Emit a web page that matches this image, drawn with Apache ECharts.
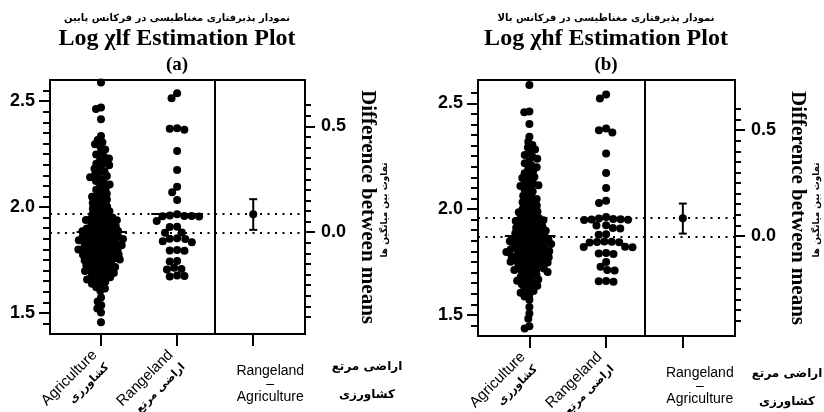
<!DOCTYPE html>
<html><head><meta charset="utf-8">
<script src="https://cdn.jsdelivr.net/npm/echarts@6/dist/echarts.min.js"></script>
<style>html,body{margin:0;padding:0;background:#fff}#c{width:824px;height:412px}</style>
</head><body><div id="c"></div>
<script>
// ---------- data ----------
const subtitlesFa = ['نمودار پذیرفتاری مغناطیسی در فرکانس پایین', 'نمودار پذیرفتاری مغناطیسی در فرکانس بالا'];
const titlesEn = ['Log χlf Estimation Plot', 'Log χhf Estimation Plot'];
const panelTags = ['(a)', '(b)'];
const groupsEn = ['Agriculture', 'Rangeland'];
const groupsFa = ['کشاورزی', 'اراضی مرتع'];
const diffLabelEn = 'Rangeland\n–\nAgriculture';
const diffLabelFa = 'اراضی مرتع\nکشاورزی';
const rightAxisName = 'Difference between means';
const rightAxisNameFa = 'تفاوت بین میانگین ها';
const leftTickLabels = [1.5, 2.0, 2.5];
const rightTickLabels = [0.0, 0.5];

const agriA = [2.588, 2.470, 2.463, 2.414, 2.336, 2.317, 2.306,
 2.296, 2.283, 2.272, 2.257,
 2.248, 2.237, 2.229, 2.221, 2.209, 2.204,
 2.197, 2.186, 2.181, 2.168, 2.162, 2.151,
 2.146, 2.141, 2.129, 2.123, 2.111, 2.106,
 2.098, 2.087, 2.082, 2.069, 2.063, 2.052,
 2.049, 2.040, 2.036, 2.024, 2.019, 2.011, 2.002,
 1.997, 1.993, 1.984, 1.980, 1.972, 1.968, 1.959, 1.957, 1.950,
 1.948, 1.945, 1.938, 1.937, 1.930, 1.928, 1.921, 1.918, 1.911, 1.909, 1.903, 1.901,
 1.899, 1.894, 1.893, 1.887, 1.886, 1.881, 1.879, 1.874, 1.872, 1.867, 1.865, 1.860, 1.859, 1.854, 1.853, 1.850,
 1.849, 1.844, 1.843, 1.838, 1.837, 1.832, 1.831, 1.826, 1.825, 1.820, 1.819, 1.814, 1.813, 1.808, 1.807, 1.803, 1.801,
 1.799, 1.794, 1.793, 1.788, 1.787, 1.782, 1.781, 1.776, 1.775, 1.770, 1.769, 1.764, 1.763, 1.758, 1.756, 1.752,
 1.749, 1.743, 1.741, 1.737, 1.733, 1.727, 1.725, 1.719, 1.717, 1.711, 1.709, 1.703, 1.701,
 1.698, 1.691, 1.688, 1.681, 1.678, 1.671, 1.668, 1.661, 1.658, 1.651,
 1.647, 1.637, 1.631, 1.621, 1.615, 1.604,
 1.573, 1.554, 1.536, 1.520, 1.501, 1.455];
const rangeA = [2.537, 2.514, 2.372, 2.370, 2.365, 2.265, 2.175, 2.096, 2.070, 2.033,
 1.966, 1.960, 1.958, 1.957, 1.956, 1.955, 1.934, 1.907, 1.905, 1.880, 1.878,
 1.852, 1.850, 1.849, 1.838, 1.833, 1.797, 1.795, 1.793, 1.745, 1.743, 1.713,
 1.707, 1.705, 1.676, 1.674, 1.672];
const agriB = [2.586, 2.461, 2.457, 2.402, 2.342,
 2.318, 2.303, 2.291, 2.282, 2.267, 2.256,
 2.247, 2.238, 2.227, 2.216, 2.205,
 2.198, 2.187, 2.179, 2.169, 2.159, 2.152,
 2.147, 2.134, 2.122, 2.118, 2.113, 2.109, 2.102,
 2.093, 2.083, 2.072, 2.063, 2.054,
 2.048, 2.038, 2.032, 2.023, 2.017, 2.007, 2.001,
 1.996, 1.989, 1.985, 1.977, 1.971, 1.966, 1.958, 1.954, 1.951,
 1.947, 1.943, 1.939, 1.934, 1.931, 1.926, 1.920, 1.916, 1.912, 1.907, 1.904, 1.900,
 1.897, 1.893, 1.890, 1.886, 1.883, 1.879, 1.876, 1.872, 1.869, 1.865, 1.862, 1.858, 1.856, 1.853, 1.850,
 1.848, 1.845, 1.841, 1.839, 1.835, 1.832, 1.829, 1.826, 1.822, 1.819, 1.816, 1.813, 1.810, 1.807, 1.805, 1.802, 1.800,
 1.797, 1.794, 1.790, 1.787, 1.785, 1.781, 1.778, 1.775, 1.772, 1.768, 1.766, 1.762, 1.759, 1.756, 1.753, 1.751,
 1.747, 1.743, 1.739, 1.736, 1.731, 1.728, 1.723, 1.719, 1.716, 1.712, 1.708, 1.705, 1.702,
 1.696, 1.690, 1.684, 1.679, 1.672, 1.667, 1.661, 1.655, 1.651,
 1.645, 1.637, 1.628, 1.622, 1.613, 1.605,
 1.596, 1.587, 1.571,
 1.537, 1.506, 1.482, 1.446, 1.436];
const rangeB = [2.542, 2.523, 2.381, 2.373, 2.362, 2.263, 2.171, 2.100, 2.039, 2.029,
 1.963, 1.955, 1.953, 1.952, 1.951, 1.950, 1.948, 1.924, 1.922, 1.910, 1.908,
 1.881, 1.879, 1.847, 1.845, 1.844, 1.843, 1.842, 1.822, 1.821, 1.820,
 1.792, 1.790, 1.788, 1.750, 1.727, 1.712, 1.710, 1.660, 1.659, 1.657];
const meansA = [1.881, 1.966];           // Agriculture, Rangeland
const meansB = [1.873, 1.955];
const diffA = [0.085, 0.011, 0.156];     // estimate, CI low, CI high
const diffB = [0.084, 0.011, 0.153];

// ---------- layout ----------
const panels = [
  { agri: agriA, range: rangeA, means: meansA, diff: diffA, yMin: 1.4, yMax: 2.6,
    grid: { left: 50, right: 519, top: 80, bottom: 78 }, cx: 177, faX: 367, faY: 381, nameFaX: 385 },
  { agri: agriB, range: rangeB, means: meansB, diff: diffB, yMin: 1.4, yMax: 2.61,
    grid: { left: 478, right: 89, top: 80, bottom: 76 }, cx: 606, faX: 787, faY: 388, nameFaX: 817 }
];
const X_MIN = -0.67, X_MAX = 2.68;
const BLACK = '#000';
const SANS = 'Liberation Sans';
const SERIF = 'Liberation Serif';
const FA = 'DejaVu Sans';

function steps(a, b, s) { const r = []; for (let v = a; v <= b + 1e-9; v += s) r.push(+v.toFixed(3)); return r; }

const grids = [], xAxes = [], yAxes = [], series = [], graphics = [];
panels.forEach((p, i) => {
  grids.push(Object.assign({ show: true, borderColor: BLACK, borderWidth: 2, containLabel: false, outerBoundsMode: 'none' }, p.grid));
  const xBase = { type: 'value', gridIndex: i, position: 'bottom', min: X_MIN, max: X_MAX, splitLine: { show: false },
    axisLine: { show: false, onZero: false } };
  xAxes.push(Object.assign({}, xBase, {
    axisTick: { show: true, inside: false, length: 12, lineStyle: { color: BLACK, width: 2 }, customValues: [0, 1, 2] },
    axisLabel: { show: true, rotate: 45, margin: 25, customValues: [0, 1],
      formatter: v => '{en|' + groupsEn[Math.round(v)] + '}\n{fa|' + groupsFa[Math.round(v)] + '}',
      rich: { en: { fontFamily: SANS, fontSize: 15, color: BLACK, lineHeight: 18 },
              fa: { fontFamily: FA, fontSize: 11, fontWeight: 'bold', color: BLACK, lineHeight: 18 } } }
  }));
  xAxes.push(Object.assign({}, xBase, {
    axisTick: { show: false },
    axisLabel: { show: true, rotate: 0, margin: 31, customValues: [2], formatter: () => diffLabelEn,
      fontFamily: SANS, fontSize: 14, color: BLACK, lineHeight: 13, padding: [0, 0, 0, 34] }
  }));
  const rMin = p.yMin - p.means[0], rMax = p.yMax - p.means[0];
  const yBase = { type: 'value', gridIndex: i, splitLine: { show: false } };
  // left main
  yAxes.push(Object.assign({}, yBase, { position: 'left', min: p.yMin, max: p.yMax,
    axisLine: { show: true, onZero: false, lineStyle: { color: BLACK, width: 2 } },
    axisTick: { show: true, length: 11, lineStyle: { color: BLACK, width: 2 }, customValues: leftTickLabels },
    axisLabel: { show: true, margin: 15, customValues: leftTickLabels, formatter: v => v.toFixed(1),
      fontFamily: SANS, fontWeight: 'bold', fontSize: 18, color: BLACK } }));
  // left minor
  yAxes.push(Object.assign({}, yBase, { position: 'left', min: p.yMin, max: p.yMax,
    axisLine: { show: false, onZero: false },
    axisTick: { show: true, length: 7, lineStyle: { color: BLACK, width: 2 }, customValues: steps(1.45, 2.55, 0.05) },
    axisLabel: { show: false } }));
  // right main
  yAxes.push(Object.assign({}, yBase, { position: 'right', min: rMin, max: rMax,
    name: rightAxisName, nameLocation: 'middle', nameRotate: -90, nameGap: 52,
    nameTextStyle: { fontFamily: SERIF, fontWeight: 'bold', fontSize: 21, color: BLACK },
    axisLine: { show: true, onZero: false, lineStyle: { color: BLACK, width: 2 } },
    axisTick: { show: true, length: 10, lineStyle: { color: BLACK, width: 2 }, customValues: rightTickLabels },
    axisLabel: { show: true, margin: 16, customValues: rightTickLabels, formatter: v => v.toFixed(1),
      fontFamily: SANS, fontWeight: 'bold', fontSize: 18, color: BLACK } }));
  // right minor
  yAxes.push(Object.assign({}, yBase, { position: 'right', min: rMin, max: rMax,
    axisLine: { show: false, onZero: false },
    axisTick: { show: true, length: 6, lineStyle: { color: BLACK, width: 2 }, customValues: steps(-0.4, 0.6, 0.05) },
    axisLabel: { show: false } }));

  const xi = 2 * i, yl = 4 * i, yr = 4 * i + 2;
  const dotted = { type: [2, 5.5], width: 2, color: BLACK };
  const dotStyle = { color: BLACK, opacity: 1 };
  series.push({ id: 'agri' + i, type: 'scatter', xAxisIndex: xi, yAxisIndex: yl, data: [],
    symbol: 'circle', symbolSize: 8, itemStyle: dotStyle, z: 3, silent: true });
  series.push({ id: 'range' + i, type: 'scatter', xAxisIndex: xi, yAxisIndex: yl, data: [],
    symbol: 'circle', symbolSize: 8, itemStyle: dotStyle, z: 3, silent: true });
  // reference lines (dotted mean lines + divider)
  series.push({ type: 'scatter', xAxisIndex: xi, yAxisIndex: yl, data: [], z: 1,
    markLine: { silent: true, symbol: 'none', label: { show: false }, animation: false,
      data: [
        { yAxis: p.means[0], lineStyle: dotted },
        { yAxis: p.means[1], lineStyle: dotted },
        { xAxis: 1.5, lineStyle: { type: 'solid', width: 2, color: BLACK } }
      ] } });
  // mean bars
  series.push({ type: 'scatter', xAxisIndex: xi, yAxisIndex: yl, data: [], z: 5,
    markLine: { silent: true, symbol: 'none', label: { show: false }, animation: false, z: 5,
      lineStyle: { type: 'solid', width: 2, color: BLACK },
      data: [
        [{ coord: [-0.32, p.means[0]] }, { coord: [0.34, p.means[0]] }],
        [{ coord: [1 - 0.34, p.means[1]] }, { coord: [1 + 0.34, p.means[1]] }]
      ] } });
  // difference estimate & CI
  series.push({ type: 'custom', xAxisIndex: xi, yAxisIndex: yr, z: 4, silent: true,
    data: [[2, p.diff[1], p.diff[2]]], encode: { x: 0, y: [1, 2] },
    renderItem: (params, api) => {
      const x = api.value(0);
      const lo = api.coord([x, api.value(1)]), hi = api.coord([x, api.value(2)]);
      const cw = 4, st = { stroke: BLACK, lineWidth: 2 };
      return { type: 'group', children: [
        { type: 'line', shape: { x1: lo[0], y1: lo[1], x2: hi[0], y2: hi[1] }, style: st },
        { type: 'line', shape: { x1: lo[0] - cw, y1: lo[1], x2: lo[0] + cw, y2: lo[1] }, style: st },
        { type: 'line', shape: { x1: hi[0] - cw, y1: hi[1], x2: hi[0] + cw, y2: hi[1] }, style: st }
      ] };
    } });
  series.push({ type: 'scatter', xAxisIndex: xi, yAxisIndex: yr, data: [[2, p.diff[0]]],
    symbol: 'circle', symbolSize: 8, itemStyle: dotStyle, z: 6, silent: true });

  // texts
  graphics.push({ type: 'text', x: p.cx, y: 18, style: { text: subtitlesFa[i], fill: BLACK,
    font: 'bold 10px "' + FA + '"', textAlign: 'center', textVerticalAlign: 'middle', align: 'center', verticalAlign: 'middle' } });
  graphics.push({ type: 'text', x: p.cx, y: 39, style: { text: titlesEn[i], fill: BLACK,
    font: 'bold 24px "' + SERIF + '"', textAlign: 'center', textVerticalAlign: 'middle', align: 'center', verticalAlign: 'middle' } });
  graphics.push({ type: 'text', x: p.cx, y: 65, style: { text: panelTags[i], fill: BLACK,
    font: 'bold 19px "' + SERIF + '"', textAlign: 'center', textVerticalAlign: 'middle', align: 'center', verticalAlign: 'middle' } });
  graphics.push({ type: 'text', x: p.faX, y: p.faY, style: { text: diffLabelFa, fill: BLACK,
    font: 'bold 12px "' + FA + '"', lineHeight: 28, textAlign: 'center', textVerticalAlign: 'middle', align: 'center', verticalAlign: 'middle' } });
  graphics.push({ type: 'text', x: p.nameFaX, y: 210, rotation: Math.PI / 2, style: { text: rightAxisNameFa, fill: BLACK,
    font: 'bold 9px "' + FA + '"', textAlign: 'center', textVerticalAlign: 'middle', align: 'center', verticalAlign: 'middle' } });
});

const chart = echarts.init(document.getElementById('c'), null, { renderer: 'canvas' });
chart.setOption({ animation: false, backgroundColor: '#fff', grid: grids, xAxis: xAxes, yAxis: yAxes, series: series, graphic: graphics });

// beeswarm layout in pixel space via the chart's own scales
function swarm(pys, D) {
  const idx = pys.map((v, k) => k).sort((a, b) => pys[a] - pys[b]);
  const placed = [], out = new Array(pys.length);
  idx.forEach(k => {
    const y = pys[k], blocks = [];
    placed.forEach(q => { const dy = Math.abs(q.y - y); if (dy < D) { const w = Math.sqrt(D * D - dy * dy); blocks.push([q.x - w, q.x + w]); } });
    const cands = [0];
    blocks.forEach(b => cands.push(b[0], b[1]));
    cands.sort((a, b) => Math.abs(a) - Math.abs(b) || a - b);
    let x = 0;
    for (const c of cands) { if (blocks.every(b => c <= b[0] + 1e-6 || c >= b[1] - 1e-6)) { x = c; break; } }
    placed.push({ x, y }); out[k] = x;
  });
  return out;
}
const upd = [];
panels.forEach((p, i) => {
  const xi = 2 * i, yl = 4 * i;
  const pxPerX = chart.convertToPixel({ xAxisIndex: xi }, 1) - chart.convertToPixel({ xAxisIndex: xi }, 0);
  [[p.agri, 0, 'agri', 5.2], [p.range, 1, 'range', 7.4]].forEach(([vals, gx, nm, D]) => {
    const pys = vals.map(v => chart.convertToPixel({ yAxisIndex: yl }, v));
    const offs = swarm(pys, D);
    upd.push({ id: nm + i, data: vals.map((v, k) => [gx + offs[k] / pxPerX, v]) });
  });
});
chart.setOption({ series: upd });
</script></body></html>
